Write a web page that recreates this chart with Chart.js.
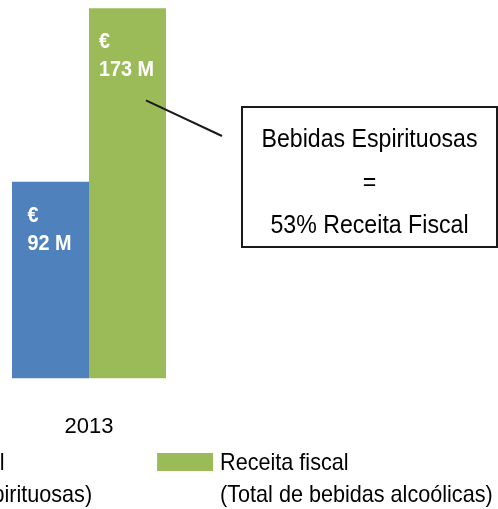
<!DOCTYPE html>
<html>
<head>
<meta charset="utf-8">
<script src="https://cdn.jsdelivr.net/npm/chart.js@4.4.1/dist/chart.umd.min.js"></script>
<style>
  html, body { margin: 0; padding: 0; background: #fff; overflow: hidden; }
  #wrap { width: 498px; height: 509px; position: relative; }
</style>
</head>
<body>
<div id="wrap"><canvas id="receita_graph"></canvas></div>
<script>
// data
const years = ["2013"];
const espirituosas = [92];   // M€
const totalAlcool = [173];   // M€
const seriesNames = ["Receita fiscal (Bebidas Espirituosas)", "Receita fiscal (Total de bebidas alcoólicas)"];
const legendLines = [
  ["Receita fiscal", "(Bebidas Espirituosas)"],
  ["Receita fiscal", "(Total de bebidas alcoólicas)"],
];
const calloutLines = ["Bebidas Espirituosas", "=", "53% Receita Fiscal"];
const yMax = 175;

const FONT = '"Liberation Sans", Arial, sans-serif';

// source text is a bit condensed, so squeeze it horizontally
function narrowText(ctx, text, x, y, sx) {
  ctx.save();
  ctx.translate(x, y);
  ctx.scale(sx, 1);
  ctx.fillText(text, 0, 0);
  ctx.restore();
}

// white "€ / 92 M" labels inside the bars
const valueLabels = {
  id: "valueLabels",
  afterDatasetsDraw(chart) {
    const ctx = chart.ctx;
    const sx = 0.9;
    ctx.save();
    ctx.font = "bold 22px " + FONT;
    ctx.fillStyle = "#fff";
    ctx.textAlign = "left";
    chart.data.datasets.forEach((ds, i) => {
      chart.getDatasetMeta(i).data.forEach((bar, j) => {
        const txt = ds.data[j] + " M";
        const w = ctx.measureText(txt).width * sx;
        const left = bar.x - w / 2 - 1;
        narrowText(ctx, "€", left, bar.y + 40, sx);
        narrowText(ctx, txt, left, bar.y + 68, sx);
      });
    });
    ctx.restore();
  },
};

// boxed note with a pointer line to the green bar
const callout = {
  id: "callout",
  afterDraw(chart) {
    const ctx = chart.ctx;
    const box = { x: 242, y: 107, w: 255, h: 140 };
    const bar = chart.getDatasetMeta(1).data[0];
    const y = chart.scales.y;
    ctx.save();
    ctx.strokeStyle = "#1a1a1a";
    ctx.lineWidth = 2;
    ctx.beginPath();
    ctx.moveTo(bar.x + bar.width * 0.24, y.getPixelForValue(130));
    ctx.lineTo(box.x - 20, box.y + 29);
    ctx.stroke();
    ctx.strokeRect(box.x, box.y, box.w, box.h);
    ctx.fillStyle = "#000";
    ctx.font = "26px " + FONT;
    ctx.textAlign = "center";
    calloutLines.forEach((line, i) => {
      narrowText(ctx, line, box.x + box.w / 2, box.y + 40 + i * 43, 0.89);
    });
    ctx.restore();
  },
};

// two-line legend, left item runs off the left edge like the source
const twoLineLegend = {
  id: "twoLineLegend",
  afterDraw(chart) {
    const ctx = chart.ctx;
    const sx = 0.9;
    ctx.save();
    ctx.font = "24px " + FONT;
    ctx.textAlign = "left";
    let x = -187;
    chart.data.datasets.forEach((ds, i) => {
      ctx.fillStyle = ds.backgroundColor;
      ctx.fillRect(x, 453, 56, 18);
      ctx.fillStyle = "#000";
      const tx = x + 63;
      legendLines[i].forEach((line, k) => narrowText(ctx, line, tx, 470 + k * 32, sx));
      const w = Math.max(...legendLines[i].map((l) => ctx.measureText(l).width)) * sx;
      x = tx + w + 65;
    });
    ctx.restore();
  },
};

new Chart(document.getElementById("receita_graph"), {
  type: "bar",
  data: {
    labels: years,
    datasets: [
      {
        label: seriesNames[0],
        data: espirituosas,
        backgroundColor: "#4F81BD",
        barPercentage: 1,
        categoryPercentage: 0.865,
      },
      {
        label: seriesNames[1],
        data: totalAlcool,
        backgroundColor: "#9BBB59",
        barPercentage: 1,
        categoryPercentage: 0.865,
      },
    ],
  },
  options: {
    responsive: true,
    maintainAspectRatio: false,
    animation: false,
    layout: { padding: { left: 0, right: 320, top: 4, bottom: 34 } },
    scales: {
      x: {
        grid: { display: false, drawTicks: false },
        border: { display: false },
        ticks: { color: "#000", font: { family: FONT, size: 22 }, padding: 35 },
      },
      y: { display: false, min: 0, max: yMax },
    },
    plugins: {
      legend: { display: false },
      tooltip: { enabled: false },
    },
  },
  plugins: [valueLabels, callout, twoLineLegend],
});
</script>
</body>
</html>
